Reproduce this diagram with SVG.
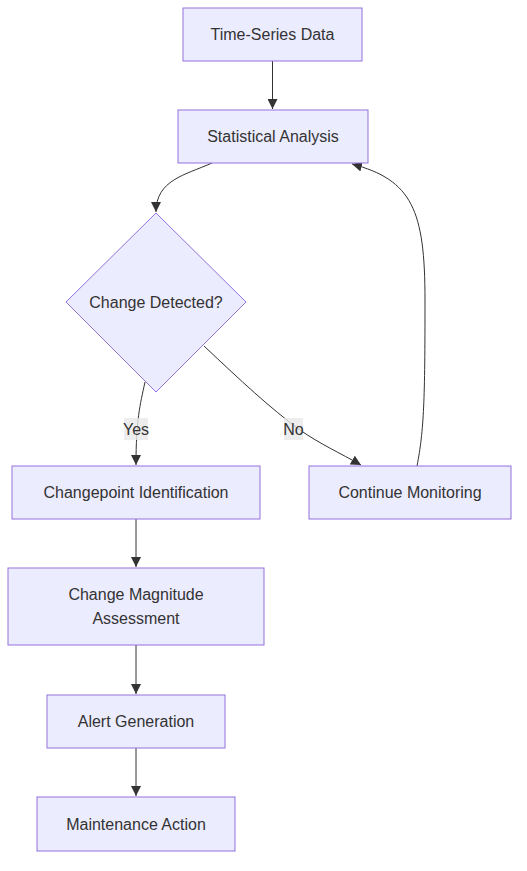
<svg xmlns="http://www.w3.org/2000/svg" width="527" height="871" viewBox="0 0 527 871">
<style>
.node rect,.node polygon{fill:#ECECFF;stroke:#9370DB;stroke-width:1px}
.node text,.lbl text{font-family:"Liberation Sans",Arial,sans-serif;font-size:16px;fill:#333;text-anchor:middle;dominant-baseline:central}
.edge{fill:none;stroke:#333;stroke-width:1px}
.lbl rect{fill:#e8e8e8;opacity:0.8}
</style>
<defs>
<marker id="arr" viewBox="0 0 10 10" refX="10" refY="5" markerWidth="10" markerHeight="10" markerUnits="userSpaceOnUse" orient="auto">
<path d="M0,0 L10,5 L0,10 z" fill="#333"/>
</marker>
</defs>
<rect width="527" height="871" fill="#fff"/>
<g id="connectors">
<path class="edge" d="M272.5,61 L272.5,109" marker-end="url(#arr)"/>
<path class="edge" d="M212,163 C185,175 156,180 156,212" marker-end="url(#arr)"/>
<path class="edge" d="M145,382 C140,405 136,420 136,465" marker-end="url(#arr)"/>
<path class="edge" d="M204,346 C240,380 270,408 300,430 C320,444 340,453 361,465" marker-end="url(#arr)"/>
<path class="edge" d="M417,466 C424,430 425,400 425,300 C425,210 412,180 352,164" marker-end="url(#arr)"/>
<path class="edge" d="M136,519 L136,567" marker-end="url(#arr)"/>
<path class="edge" d="M136,645 L136,694" marker-end="url(#arr)"/>
<path class="edge" d="M136,748 L136,796" marker-end="url(#arr)"/>
<g class="lbl"><rect x="124" y="418" width="24" height="22"/><text x="136" y="429">Yes</text></g>
<g class="lbl"><rect x="284" y="418" width="19" height="22"/><text x="293.5" y="429">No</text></g>
</g>
<g id="n1" class="node"><rect x="183" y="8" width="179" height="53"/><text x="272.5" y="34.5">Time-Series Data</text></g>
<g id="n2" class="node"><rect x="178" y="110" width="190" height="53"/><text x="273" y="136.5">Statistical Analysis</text></g>
<g id="n3" class="node"><polygon points="156,213 246,302 156,392 66,302"/><text x="156" y="302">Change Detected?</text></g>
<g id="n4" class="node"><rect x="12" y="466" width="248" height="53"/><text x="136" y="492.5">Changepoint Identification</text></g>
<g id="n5" class="node"><rect x="309" y="466" width="202" height="53"/><text x="410" y="492.5">Continue Monitoring</text></g>
<g id="n6" class="node"><rect x="8" y="568" width="256" height="77"/><text x="136" y="594.5">Change Magnitude</text><text x="136" y="618.5">Assessment</text></g>
<g id="n7" class="node"><rect x="47" y="695" width="178" height="53"/><text x="136" y="721.5">Alert Generation</text></g>
<g id="n8" class="node"><rect x="37" y="797" width="198" height="54"/><text x="136" y="824">Maintenance Action</text></g>
</svg>
